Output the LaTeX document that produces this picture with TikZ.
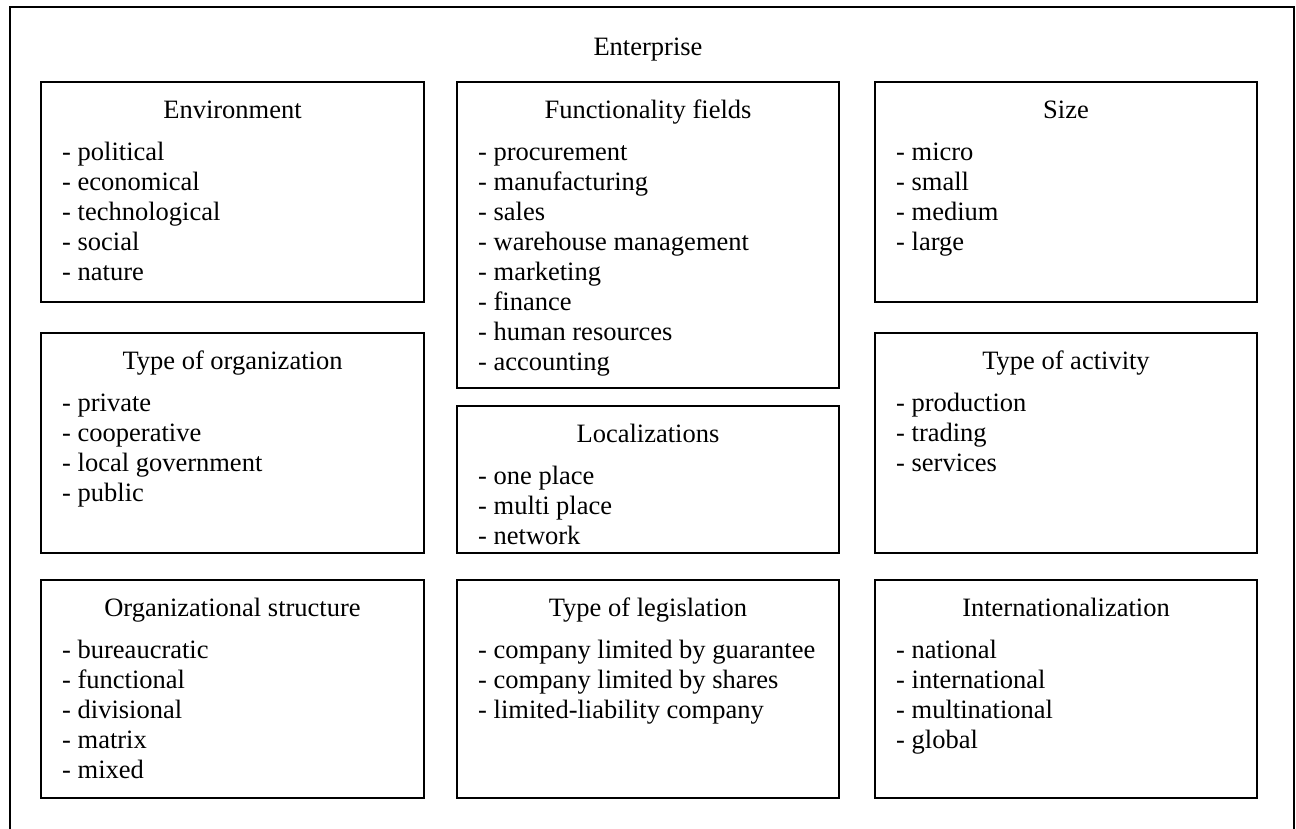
\documentclass[tikz,border=0pt]{standalone}
\usepackage{fontspec}
\setmainfont{Liberation Serif}
\usetikzlibrary{calc}
\tikzset{
  box/.style={draw=black, line width=1.8pt, inner sep=0pt, outer sep=0pt},
  outerbox/.style={draw=black, line width=1.8pt},
  ttl/.style={inner sep=0pt, font=\fontsize{26.5}{30}\selectfont},
  itm/.style={inner sep=0pt, font=\fontsize{26.5}{30}\selectfont},
}
\newcommand\catbox[7]{%
  \node[box, minimum width=#4pt, minimum height=#5pt, anchor=north west] (#1) at (#2,#3) {};
  \node[ttl, anchor=base] (#1-t) at ($(#1.north)+(0,36)$) {#6};
  \foreach \txt [count=\i] in {#7} {
    \node[itm, anchor=base west] (#1-\i) at ($(#1.north west)+(21,{78+30*(\i-1)})$) {- \txt};
  }
}
\begin{document}
\begin{tikzpicture}[x=1pt,y=-1pt]
\clip (0,0) rectangle (1296,828);
\fill[white] (0,0) rectangle (1296,828);
\draw[outerbox] (10,7) rectangle (1294,845);
\node[ttl, anchor=base] (ent) at (648,55) {Enterprise};
\catbox{env}{41}{82}{383}{220}{Environment}{political,economical,technological,social,nature}
\catbox{org}{41}{333}{383}{220}{Type of organization}{private,cooperative,local government,public}
\catbox{str}{41}{580}{383}{218}{Organizational structure}{bureaucratic,functional,divisional,matrix,mixed}
\catbox{fun}{457}{82}{382}{306}{Functionality fields}{procurement,manufacturing,sales,warehouse management,marketing,finance,human resources,accounting}
\catbox{loc}{457}{406}{382}{147}{Localizations}{one place,multi place,network}
\catbox{leg}{457}{580}{382}{218}{Type of legislation}{company limited by guarantee,company limited by shares,limited-liability company}
\catbox{siz}{875}{82}{382}{220}{Size}{micro,small,medium,large}
\catbox{act}{875}{333}{382}{220}{Type of activity}{production,trading,services}
\catbox{int}{875}{580}{382}{218}{Internationalization}{national,international,multinational,global}
\end{tikzpicture}
\end{document}
